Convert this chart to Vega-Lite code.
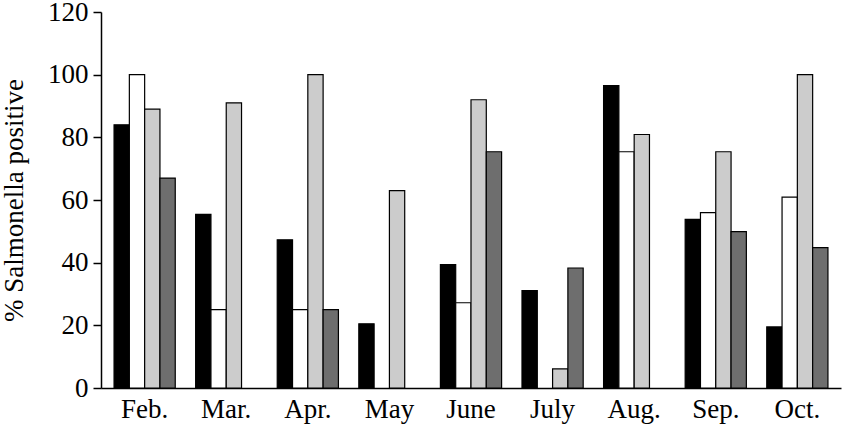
{
  "$schema": "https://vega.github.io/schema/vega-lite/v6.json",
  "width": 740,
  "height": 376,
  "autosize": {"type": "none"},
  "padding": {"left": 101, "top": 12, "right": 2, "bottom": 36},
  "background": "white",
  "config": {
    "view": {"stroke": null},
    "axis": {
      "labelFont": "Liberation Serif",
      "titleFont": "Liberation Serif",
      "labelFontSize": 27,
      "titleFontSize": 27,
      "titleFontWeight": "normal",
      "labelColor": "black",
      "titleColor": "black",
      "domainColor": "black",
      "tickColor": "black",
      "domainWidth": 1.5,
      "tickWidth": 1.5,
      "grid": false
    }
  },
  "data": {
    "values": [
      {"month": "Feb.", "series": "A", "pct": 84},
      {"month": "Feb.", "series": "B", "pct": 100},
      {"month": "Feb.", "series": "C", "pct": 89},
      {"month": "Feb.", "series": "D", "pct": 67},
      {"month": "Mar.", "series": "A", "pct": 55.4},
      {"month": "Mar.", "series": "B", "pct": 25},
      {"month": "Mar.", "series": "C", "pct": 91},
      {"month": "Apr.", "series": "A", "pct": 47.3},
      {"month": "Apr.", "series": "B", "pct": 25},
      {"month": "Apr.", "series": "C", "pct": 100},
      {"month": "Apr.", "series": "D", "pct": 25},
      {"month": "May", "series": "A", "pct": 20.5},
      {"month": "May", "series": "C", "pct": 63},
      {"month": "June", "series": "A", "pct": 39.4},
      {"month": "June", "series": "B", "pct": 27.2},
      {"month": "June", "series": "C", "pct": 92},
      {"month": "June", "series": "D", "pct": 75.4},
      {"month": "July", "series": "A", "pct": 31.1},
      {"month": "July", "series": "C", "pct": 6.1},
      {"month": "July", "series": "D", "pct": 38.3},
      {"month": "Aug.", "series": "A", "pct": 96.5},
      {"month": "Aug.", "series": "B", "pct": 75.4},
      {"month": "Aug.", "series": "C", "pct": 80.9},
      {"month": "Sep.", "series": "A", "pct": 53.8},
      {"month": "Sep.", "series": "B", "pct": 56},
      {"month": "Sep.", "series": "C", "pct": 75.4},
      {"month": "Sep.", "series": "D", "pct": 49.9},
      {"month": "Oct.", "series": "A", "pct": 19.5},
      {"month": "Oct.", "series": "B", "pct": 60.9},
      {"month": "Oct.", "series": "C", "pct": 100},
      {"month": "Oct.", "series": "D", "pct": 44.8}
    ]
  },
  "mark": {"type": "bar", "stroke": "black", "strokeWidth": 1.2},
  "encoding": {
    "x": {
      "field": "month",
      "type": "nominal",
      "sort": ["Feb.", "Mar.", "Apr.", "May", "June", "July", "Aug.", "Sep.", "Oct."],
      "scale": {"paddingInner": 0.25, "paddingOuter": 0.16},
      "axis": {"title": null, "labelAngle": 0, "ticks": false, "labelPadding": 8}
    },
    "xOffset": {
      "field": "series",
      "type": "nominal",
      "scale": {"domain": ["A", "B", "C", "D"], "paddingInner": 0, "paddingOuter": 0}
    },
    "y": {
      "field": "pct",
      "type": "quantitative",
      "scale": {"domain": [0, 120], "nice": false},
      "axis": {
        "title": "% Salmonella positive",
        "values": [0, 20, 40, 60, 80, 100, 120],
        "tickSize": 8,
        "labelPadding": 5,
        "titlePadding": 19
      }
    },
    "color": {
      "field": "series",
      "type": "nominal",
      "scale": {"domain": ["A", "B", "C", "D"], "range": ["#000000", "#ffffff", "#cccccc", "#6e6e6e"]},
      "legend": null
    }
  }
}
